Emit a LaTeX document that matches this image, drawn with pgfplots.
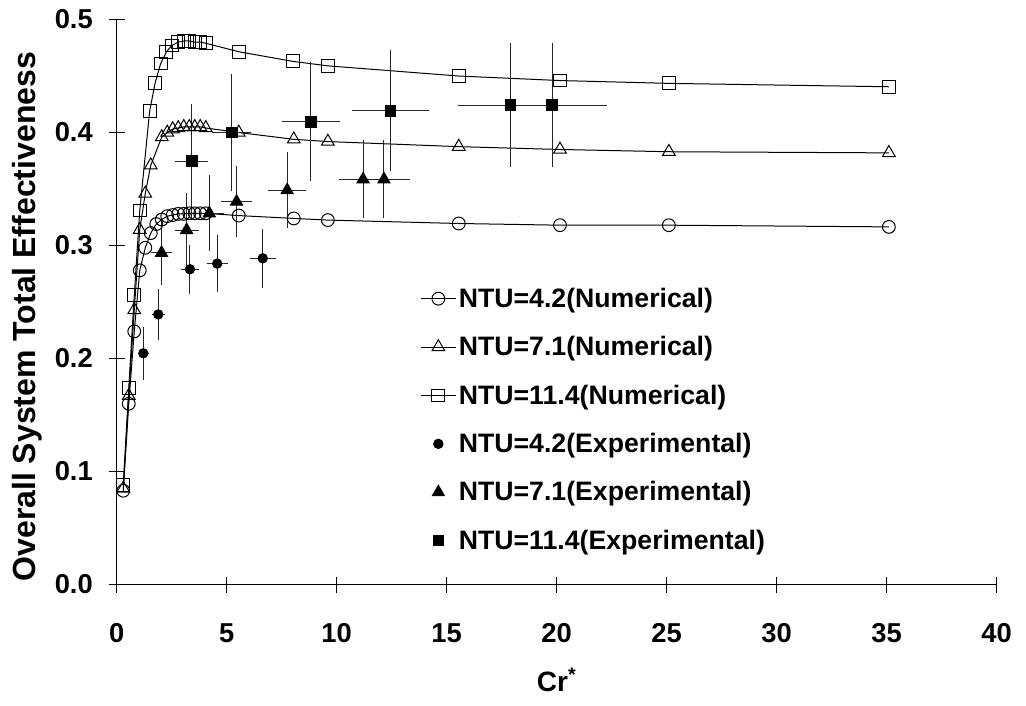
\documentclass[border=0pt]{standalone}
\usepackage{fontspec}
\setmainfont{Liberation Sans}
\usepackage{pgfplots}
\usepackage{pgfplotstable}
\pgfplotsset{compat=1.18}

\pgfplotstableread{
x y
0.3 0.083
0.55 0.160
0.8 0.224
1.05 0.278
1.3 0.298
1.55 0.311
1.8 0.319
2.05 0.323
2.3 0.326
2.55 0.327
2.8 0.328
3.05 0.328
3.3 0.3285
3.55 0.3285
3.8 0.3285
4.05 0.3285
5.55 0.3265
8.05 0.324
9.6 0.3225
15.55 0.3195
20.15 0.318
25.1 0.318
35.1 0.3165
}\numA

\pgfplotstableread{
x y
0.3 0.085
0.55 0.167
0.8 0.243
1.05 0.314
1.3 0.346
1.55 0.371
2.05 0.396
2.3 0.400
2.55 0.403
2.8 0.404
3.05 0.405
3.3 0.405
3.55 0.405
3.8 0.405
4.05 0.404
5.55 0.400
8.05 0.394
9.6 0.392
15.55 0.3875
20.15 0.385
25.1 0.383
35.1 0.382
}\numB

\pgfplotstableread{
x y
0.3 0.088
0.55 0.174
0.8 0.256
1.05 0.331
1.5 0.419
1.75 0.444
2.0 0.461
2.25 0.471
2.5 0.477
2.8 0.480
3.05 0.481
3.3 0.481
3.55 0.480
3.8 0.480
4.05 0.479
5.55 0.4715
8.0 0.463
9.6 0.459
15.55 0.450
20.15 0.446
25.1 0.4435
35.1 0.4405
}\numC

\pgfplotstableread{
x y ex ey
1.21 0.2046 0.08 0.020
1.89 0.239 0.12 0.019
3.33 0.279 0.23 0.018
4.57 0.284 0.30 0.022
6.64 0.2887 0.41 0.0225
}\expA

\pgfplotstableread{
x y ex ey
2.04 0.2935 0.30 0.025
3.18 0.3137 0.36 0.029
4.21 0.3285 0.48 0.030
5.45 0.3388 0.53 0.028
7.75 0.349 0.68 0.030
11.2 0.3586 0.90 0.031
12.15 0.3586 1.00 0.031
}\expB

\pgfplotstableread{
x y ex ey
3.41 0.3748 0.56 0.047
5.23 0.400 0.71 0.048
8.82 0.4096 1.14 0.049
12.45 0.4193 1.55 0.050
17.9 0.4243 2.2 0.051
19.8 0.4243 2.3 0.051
}\expC

\begin{document}
\begin{tikzpicture}
\begin{axis}[
  scale only axis, width=660pt, height=423.75pt,
  xmin=0, xmax=40, ymin=0, ymax=0.5,
  axis lines*=left,
  xtick={0,5,10,15,20,25,30,35,40},
  ytick={0,0.1,0.2,0.3,0.4,0.5},
  tick align=center, major tick length=12pt,
  tick style={black, line width=0.75pt},
  axis line style={black, line width=0.75pt},
  tick label style={font=\bfseries\fontsize{20.5}{24}\selectfont},
  /pgf/number format/assume math mode=true,
  yticklabel style={/pgf/number format/fixed, /pgf/number format/fixed zerofill, /pgf/number format/precision=1, xshift=-8.4pt},
  xticklabel style={yshift=-19.8pt},
  xlabel={Cr\textsuperscript{*}},
  ylabel={Overall System Total Effectiveness},
  xlabel style={at={(axis description cs:0.5,-0.168)}, anchor=center, font=\bfseries\fontsize{21}{24}\selectfont},
  ylabel style={at={(axis description cs:-0.102,0.474)}, anchor=center, font=\bfseries\fontsize{24}{28}\selectfont},
  legend style={at={(rel axis cs:0.345,0.53)}, anchor=north west, draw=none, fill=none,
    font=\bfseries\fontsize{20}{23}\selectfont, row sep=16.3pt, inner sep=0pt},
  legend cell align=left,
  legend image code/.code={\draw[mark repeat=2,mark phase=2,#1] plot coordinates {(0pt,0pt) (13pt,0pt) (26pt,0pt)};},
  every axis plot/.append style={line width=0.75pt},
  clip=false,
]
\addplot[black, mark=o, mark size=4.8pt, mark options={solid}] table {\numA};
\addlegendentry{NTU=4.2(Numerical)}
\addplot[black, mark=triangle, mark size=5.5pt, mark options={solid}] table {\numB};
\addlegendentry{NTU=7.1(Numerical)}
\addplot[black, mark=square, mark size=4.8pt, mark options={solid}] table {\numC};
\addlegendentry{NTU=11.4(Numerical)}
\addplot[black, only marks, mark=*, mark size=3.5pt,
  error bars/.cd, x dir=both, x explicit, y dir=both, y explicit,
  error bar style={line width=0.75pt, black!85},
  error mark options={black!85, line width=0.75pt, mark size=3pt}]
  table[x=x, y=y, x error=ex, y error=ey] {\expA};
\addlegendentry{NTU=4.2(Experimental)}
\addplot[black, only marks, mark=triangle*, mark size=5.2pt,
  error bars/.cd, x dir=both, x explicit, y dir=both, y explicit,
  error bar style={line width=0.75pt, black!85},
  error mark options={black!85, line width=0.75pt, mark size=3pt}]
  table[x=x, y=y, x error=ex, y error=ey] {\expB};
\addlegendentry{NTU=7.1(Experimental)}
\addplot[black, only marks, mark=square*, mark size=4pt,
  error bars/.cd, x dir=both, x explicit, y dir=both, y explicit,
  error bar style={line width=0.75pt, black!85},
  error mark options={black!85, line width=0.75pt, mark size=3pt}]
  table[x=x, y=y, x error=ex, y error=ey] {\expC};
\addlegendentry{NTU=11.4(Experimental)}
\end{axis}
\pgfresetboundingbox
\path (-87.5pt,-90.4pt) rectangle (682pt,438.4pt);
\end{tikzpicture}
\end{document}
